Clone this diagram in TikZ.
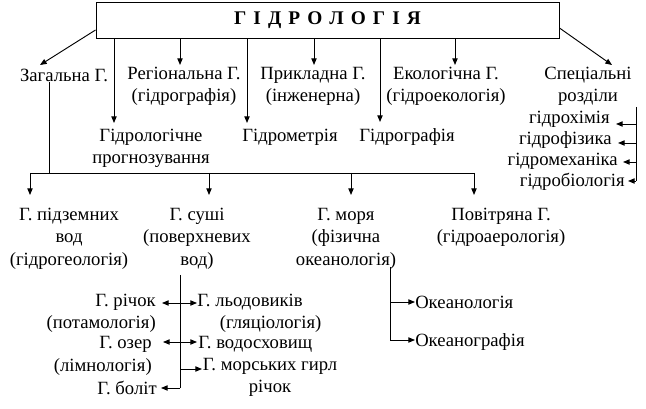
\documentclass[tikz,border=0pt]{standalone}
\usepackage{fontspec}
\setmainfont{Liberation Serif}
\usetikzlibrary{arrows.meta}
\newcommand{\tsp}{\hspace{5.3pt}}
\begin{document}
\begin{tikzpicture}[x=0.75pt,y=-0.75pt,
  txt/.style={inner sep=0pt, align=center, font=\fontsize{14}{16.8}\selectfont},
  ln/.style={line width=0.7pt},
  arr/.style={ln,-{Triangle[length=5pt,width=4pt]}},
  box/.style={draw, ln, inner sep=0pt, minimum width=347.25pt, minimum height=27pt,
     font=\bfseries\fontsize{14.5}{16}\selectfont},
]
\useasboundingbox (0,0) rectangle (646,409);
% top box
\node[box] (top) at (327.5,20) {Г\tsp І\tsp Д\tsp Р\tsp О\tsp Л\tsp О\tsp Г\tsp І\tsp Я};
% level 1 texts
\node[txt] (zag) at (64,75) {Загальна Г.};
\node[txt] (reg) at (184,86.5) {Регіональна Г.\\(гідрографія)};
\node[txt] (prykl) at (313,86.5) {Прикладна Г.\\(інженерна)};
\node[txt] (ekol) at (446,86.5) {Екологічна Г.\\(гідроекологія)};
\node[txt] (spec) at (588,86.5) {Спеціальні\\розділи};
\node[txt] (progn) at (151,148.5) {Гідрологічне\\прогнозування};
\node[txt] (metr) at (290,137) {Гідрометрія};
\node[txt] (graf) at (407,137) {Гідрографія};
% tips
\coordinate (tZag) at (40,65);
\coordinate (tProgn) at (114,123);
\coordinate (tReg) at (180,65);
\coordinate (tMetr) at (247,123);
\coordinate (tPrykl) at (314,65);
\coordinate (tGraf) at (380,122);
\coordinate (tEkol) at (455,65);
\coordinate (tSpec) at (612,65);
\draw[arr] ([yshift=-7.5pt]top.west) -- (tZag);
\draw[arr] ([yshift=-6pt]top.east) -- (tSpec);
\foreach \t in {tProgn,tReg,tMetr,tPrykl,tGraf,tEkol}
  \draw[arr] (top.south -| \t) -- (\t);
% special sections list
\node[txt, anchor=east] (h1) at (610,119.5) {гідрохімія};
\node[txt, anchor=east] (h2) at (612,140.5) {гідрофізика};
\node[txt, anchor=east] (h3) at (618,161.5) {гідромеханіка};
\node[txt, anchor=east] (h4) at (625,182) {гідробіологія};
\coordinate (sTop) at (636,107);
\coordinate (sBot) at (636,181);
\coordinate (a1) at (616,124);
\coordinate (a2) at (618,143);
\coordinate (a3) at (623,162);
\coordinate (a4) at (628,181);
\draw[ln] (sTop) -- (sBot);
\foreach \a in {a1,a2,a3,a4}
  \draw[arr] (sTop |- \a) -- (\a);
% bus to level 2
\coordinate (zDown) at (49,173);
\draw[ln] (zag.south -| zDown) -- (zDown);
\coordinate (bL) at (30,173);
\coordinate (bR) at (474,173);
\draw[ln] (bL) -- (bR);
\node[txt] (pidz) at (69,238.5) {Г. підземних\\вод\hspace*{13.5pt}\\(гідрогеологія)};
\node[txt] (sushi) at (197,238.5) {Г. суші\\(поверхневих\\вод)};
\node[txt] (morya) at (346,238.5) {Г. моря\\(фізична\\океанологія)};
\node[txt] (povitr) at (501,227.5) {Повітряна Г.\\(гідроаерологія)};
\coordinate (t1) at (30,195);
\coordinate (t2) at (209,195);
\coordinate (t3) at (351,195);
\coordinate (t4) at (474,195);
\foreach \t in {t1,t2,t3,t4}
  \draw[arr] (bL -| \t) -- (\t);
% land hydrology sub-branches
\coordinate (vS) at (180,275);
\coordinate (vE) at (180,388);
\draw[ln] (vS) -- (vE);
\node[txt, anchor=east, align=right] (richok) at (156,313.5) {Г. річок\\(потамологія)};
\node[txt, anchor=east, align=right] (ozer) at (152,356) {Г. озер\\(лімнологія)};
\node[txt, anchor=east] (bolit) at (157,388) {Г. боліт};
\node[txt, anchor=west, align=left] (lod) at (197,313.5) {Г. льодовиків\\\hspace*{17pt}(гляціологія)};
\node[txt, anchor=west] (vodo) at (198,344) {Г. водосховищ};
\node[txt] (gyrl) at (270,377.5) {Г. морських гирл\\річок};
\draw[arr] (180,303) -- (162,303);
\draw[arr] (180,342) -- (163,342);
\draw[arr] (vE) -- (161,388);
\draw[arr] (180,303) -- (197,303);
\draw[arr] (180,342) -- (197,342);
\draw[arr] (180,369) -- (202,369);
% ocean sub-branches
\coordinate (oS) at (390,267);
\coordinate (oE) at (390,340);
\draw[ln] (oS) -- (oE);
\node[txt, anchor=west] (okl) at (415,302) {Океанологія};
\node[txt, anchor=west] (okg) at (415,342) {Океанографія};
\draw[arr] (390,302) -- (okl.west);
\draw[arr] (oE) -- (okl.west |- oE);
\end{tikzpicture}
\end{document}
